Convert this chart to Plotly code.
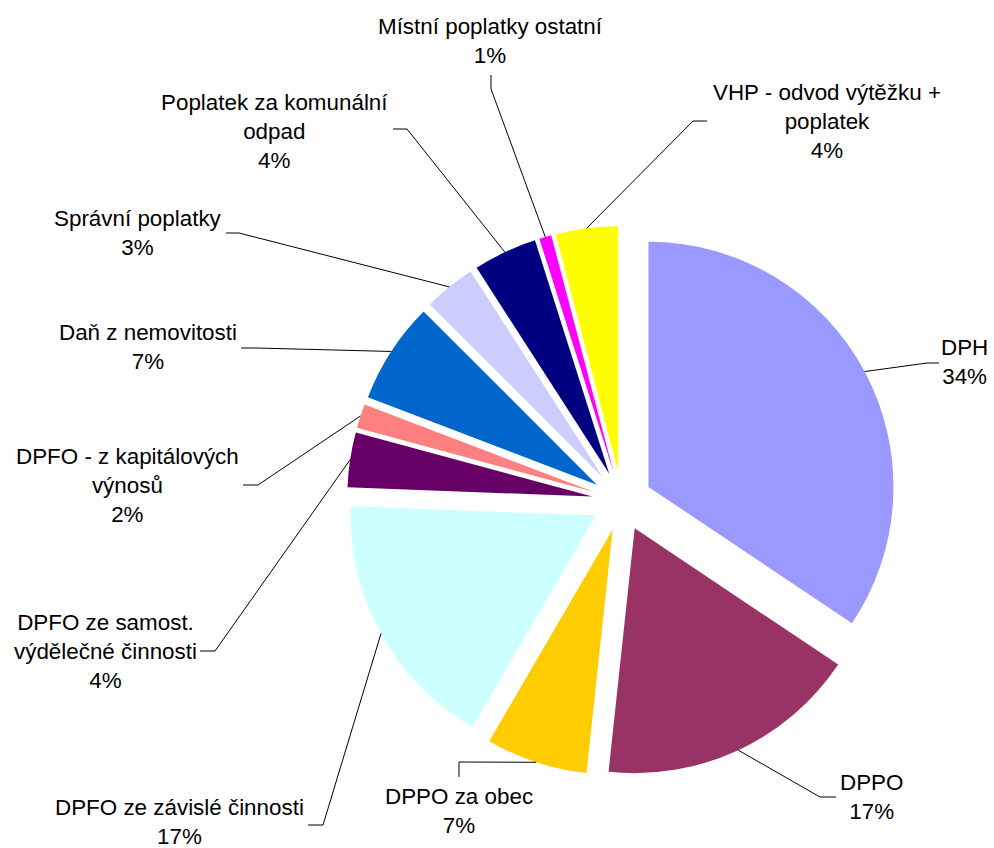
import math
import plotly.graph_objects as go

# ---- data ----
categories = [
    "DPH",
    "DPPO",
    "DPPO za obec",
    "DPFO ze závislé činnosti",
    "DPFO ze samost.<br>výdělečné činnosti",
    "DPFO - z kapitálových<br>výnosů",
    "Daň z nemovitosti",
    "Správní poplatky",
    "Poplatek za komunální<br>odpad",
    "Místní poplatky ostatní",
    "VHP - odvod výtěžku +<br>poplatek",
]
shares = [34.4, 17.3, 6.7, 17.2, 3.6, 1.6, 6.7, 3.4, 4.2, 0.8, 4.1]
colors = ["#9999FF", "#993366", "#FFCC00", "#CCFFFF", "#660066", "#FF8080",
          "#0066CC", "#CCCCFF", "#000080", "#FF00FF", "#FFFF00"]

# ---- layout constants (pixels) ----
W, H = 994, 848
PULL = 0.1224
DOM_X = (347 / W, 897 / W)
DOM_Y = (1 - 776 / H, 1 - 226 / H)

# label block centre, leader anchor near label, leader elbow (pixels)
label_pos = [(964, 362), (871, 797), (459, 811), (179, 822), (105, 651), (127, 485),
             (148, 347), (138, 233), (274, 131), (490, 41), (827, 121)]
anchor_pos = [(939, 363), (836, 797), (459, 777), (308, 825), (200, 651), (243, 485),
              (241, 348), (226, 233), (393, 129), (491, 75), (707, 121)]
elbow_pos = [(927, 363), (820, 797), (459, 762), (323, 825), (215, 651), (258, 485),
             (256, 348), (239, 233), (407, 129), (491, 89), (693, 121)]

FONT = dict(family="Liberation Sans, Arial, sans-serif", size=22.4, color="#000000")


def px(x):
    return x / W


def py(y):
    return 1 - y / H


fig = go.Figure(go.Pie(
    labels=categories,
    values=shares,
    sort=False,
    direction="clockwise",
    rotation=0,
    pull=[PULL] * len(shares),
    marker=dict(colors=colors, line=dict(width=0)),
    textinfo="none",
    hoverinfo="label+percent",
    domain=dict(x=list(DOM_X), y=list(DOM_Y)),
    showlegend=False,
))

# pie geometry as plotly computes it
box_w = W * (DOM_X[1] - DOM_X[0])
box_h = H * (DOM_Y[1] - DOM_Y[0])
r = min(box_w, box_h) / 2 / (1 + PULL)
cx = W * (DOM_X[0] + DOM_X[1]) / 2
cy = H * (1 - DOM_Y[0]) - box_h / 2

total = sum(shares)
cum = 0.0
shapes = []
annotations = []
for i, v in enumerate(shares):
    mid = (cum + v / 2) / total * 2 * math.pi
    cum += v
    rr = r * (1 + PULL)
    ex = cx + rr * math.sin(mid)
    ey = cy - rr * math.cos(mid)
    ax, ay = anchor_pos[i]
    bx, by = elbow_pos[i]
    path = f"M {px(ax)},{py(ay)} L {px(bx)},{py(by)} L {px(ex)},{py(ey)}"
    shapes.append(dict(type="path", xref="paper", yref="paper", path=path,
                       line=dict(color="#000000", width=1)))
    pct = round(v / total * 100)
    lx, ly = label_pos[i]
    annotations.append(dict(
        x=px(lx), y=py(ly), xref="paper", yref="paper",
        text=f"{categories[i]}<br>{pct}%", showarrow=False,
        xanchor="center", yanchor="middle", align="center", font=FONT,
    ))

fig.update_layout(
    width=W, height=H,
    margin=dict(l=0, r=0, t=0, b=0),
    paper_bgcolor="#FFFFFF",
    plot_bgcolor="#FFFFFF",
    shapes=shapes,
    annotations=annotations,
)

fig.write_html("out.html", config={"displayModeBar": False},
               post_script="document.body.style.margin='0';")
